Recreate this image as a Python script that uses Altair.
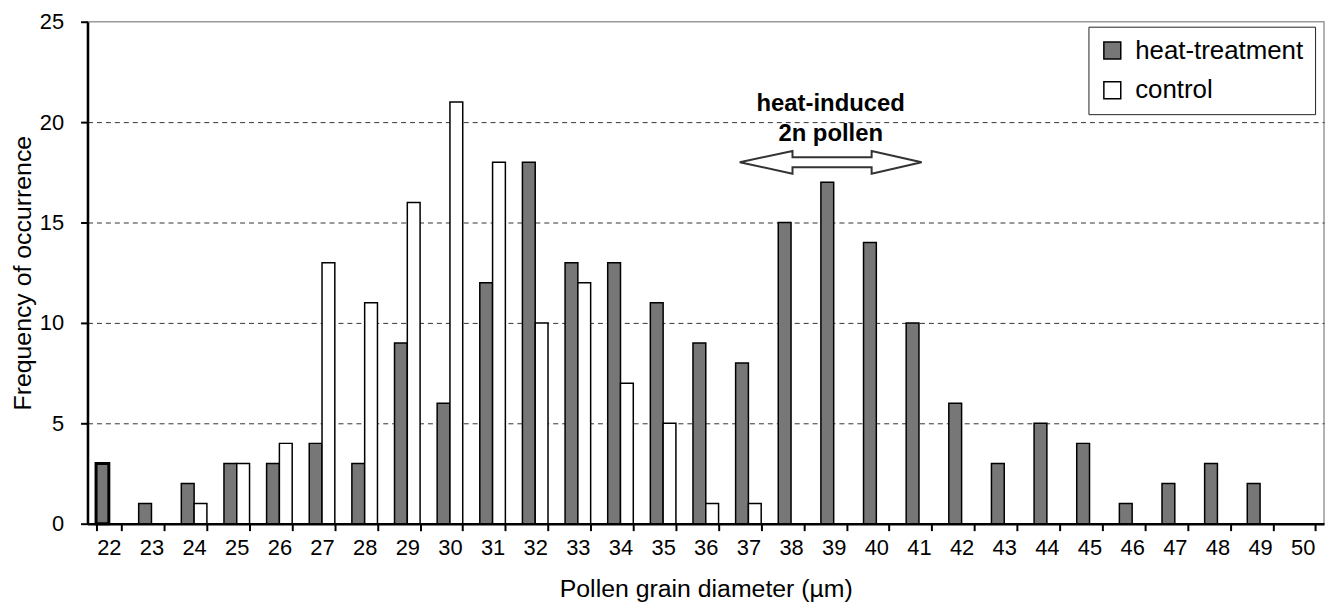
import altair as alt
import pandas as pd

diameters = ["22", "23", "24", "25", "26", "27", "28", "29", "30", "31", "32", "33", "34", "35",
             "36", "37", "38", "39", "40", "41", "42", "43", "44", "45", "46", "47", "48", "49", "50"]
heat = [3, 1, 2, 3, 3, 4, 3, 9, 6, 12, 18, 13, 13, 11, 9, 8, 15, 17, 14, 10, 6, 3, 5, 4, 1, 2, 3, 2, 0]
control = [0, 0, 1, 3, 4, 13, 11, 16, 21, 18, 10, 12, 7, 5, 1, 1, 0, 0, 0, 0, 0, 0, 0, 0, 0, 0, 0, 0, 0]
series = ["heat-treatment", "control"]

rows = []
for d, h, c in zip(diameters, heat, control):
    rows.append({"d": d, "series": series[0], "count": h})
    rows.append({"d": d, "series": series[1], "count": c})
df = pd.DataFrame(rows)

FONT = "Liberation Sans"

xscale = alt.Scale(domain=diameters, paddingInner=0.4, paddingOuter=0.2)
yscale = alt.Scale(domain=[0, 25], nice=False, zero=True)

xaxis = alt.Axis(title="Pollen grain diameter (µm)", labelAngle=0, tickBand="extent",
                 domainColor="black", domainWidth=2.5, tickColor="black", tickWidth=2,
                 tickSize=7, labelFontSize=22, labelPadding=7, labelColor="black",
                 titleFontSize=25, titlePadding=18, titleFontWeight="normal",
                 titleColor="black", grid=False)
yaxis = alt.Axis(title="Frequency of occurrence", values=[0, 5, 10, 15, 20, 25],
                 grid=True, gridColor="#333333", gridDash=[5, 4], gridWidth=1,
                 gridOpacity={"condition": {"test": "datum.value === 25 || datum.value === 0", "value": 0}, "value": 1},
                 domainColor="black", domainWidth=2.5, tickColor="black", tickWidth=2,
                 tickSize=7, labelFontSize=22, labelPadding=17, labelColor="black",
                 titleFontSize=25, titlePadding=4, titleFontWeight="normal", titleColor="black")

bars = alt.Chart(df).transform_filter("datum.count > 0").mark_bar(stroke="black").encode(
    x=alt.X("d:N", sort=diameters, scale=xscale, axis=xaxis),
    xOffset=alt.XOffset("series:N", sort=series),
    y=alt.Y("count:Q", scale=yscale, axis=yaxis),
    fill=alt.Fill("series:N", sort=series,
                  scale=alt.Scale(domain=series, range=["#777777", "#ffffff"]),
                  legend=alt.Legend(title=None, orient="none", legendX=1007, legendY=5,
                                    strokeColor="#222222", fillColor="white", padding=11,
                                    symbolType="square", symbolSize=289,
                                    symbolStrokeColor="black", symbolStrokeWidth=1.5,
                                    labelFontSize=26, labelColor="black", labelOffset=10,
                                    labelLimit=400, rowPadding=14)),
    strokeWidth=alt.condition("datum.d == '22' && datum.series == 'heat-treatment'",
                              alt.value(3), alt.value(1.5)),
)

ann = pd.DataFrame({"d": ["39"], "y": [20.9], "arrow_y": [18.0], "t": ["heat-induced\n2n pollen"]})

text = alt.Chart(ann).mark_text(fontWeight="bold", fontSize=24, lineBreak="\n", lineHeight=30,
                                baseline="middle", align="center", dx=-3, color="black").encode(
    x=alt.X("d:N", sort=diameters, scale=xscale),
    y=alt.Y("y:Q", scale=yscale),
    text="t:N",
)

arrow_path = ("M-1,0 L-0.42,-0.125 L-0.42,-0.055 L0.45,-0.055 L0.45,-0.125 L1,0 "
              "L0.45,0.125 L0.45,0.055 L-0.42,0.055 L-0.42,0.125 Z")
arrow = alt.Chart(ann).mark_point(shape=arrow_path, size=33489, filled=True, fill="white",
                                  stroke="#333333", strokeWidth=2, opacity=1, xOffset=-3).encode(
    x=alt.X("d:N", sort=diameters, scale=xscale),
    y=alt.Y("arrow_y:Q", scale=yscale),
)

chart = alt.layer(bars, text, arrow).properties(
    width=1244, height=505,
    autosize=alt.AutoSizeParams(type="none"),
    padding={"left": 80, "top": 12, "right": 4, "bottom": 81},
).configure(font=FONT).configure_view(stroke="#999999", strokeWidth=1.5)

chart.save("out.html", embed_options={"renderer": "svg", "actions": False})
